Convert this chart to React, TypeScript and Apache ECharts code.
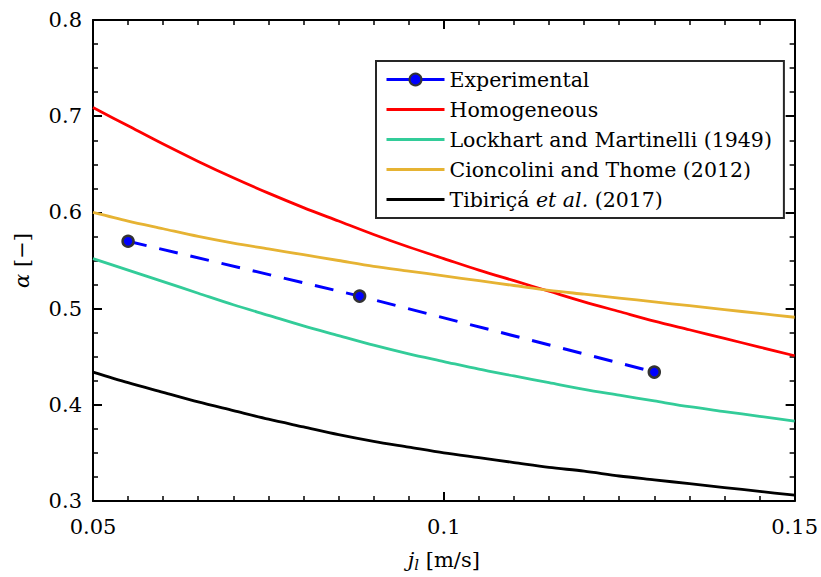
import React, { useEffect, useRef } from "react";
import * as echarts from "echarts";

const jl = [0.05, 0.055, 0.06, 0.065, 0.07, 0.075, 0.08, 0.085, 0.09, 0.095, 0.1, 0.105, 0.11, 0.115, 0.12, 0.125, 0.13, 0.135, 0.14, 0.145, 0.15];
const homogeneous = [0.709, 0.690, 0.671, 0.653, 0.636, 0.620, 0.605, 0.591, 0.577, 0.564, 0.552, 0.540, 0.529, 0.518, 0.507, 0.497, 0.487, 0.478, 0.469, 0.460, 0.451];
const lockhart = [0.552, 0.540, 0.528, 0.516, 0.504, 0.493, 0.482, 0.472, 0.462, 0.453, 0.445, 0.437, 0.430, 0.423, 0.416, 0.410, 0.404, 0.398, 0.393, 0.388, 0.383];
const cioncolini = [0.600, 0.591, 0.583, 0.575, 0.568, 0.562, 0.556, 0.550, 0.544, 0.539, 0.534, 0.529, 0.524, 0.519, 0.515, 0.511, 0.507, 0.503, 0.499, 0.495, 0.491];
const tibirica = [0.434, 0.423, 0.413, 0.403, 0.394, 0.385, 0.377, 0.369, 0.362, 0.356, 0.350, 0.345, 0.340, 0.335, 0.331, 0.326, 0.322, 0.318, 0.314, 0.310, 0.306];
const expX = [0.055, 0.088, 0.13];
const expY = [0.570, 0.513, 0.434];
const names = [
  "Experimental",
  "Homogeneous",
  "Lockhart and Martinelli (1949)",
  "Cioncolini and Thome (2012)",
  "Tibiriçá et al. (2017)",
];

const FONT = "DejaVu Serif";
const FS = 21;
const LFS = 20.5;

const pairs = (xs: number[], ys: number[]) => xs.map((x, i) => [x, ys[i]]);
const fmt = (v: number) => String(parseFloat(v.toFixed(3)));

export default function App() {
  const ref = useRef<HTMLDivElement>(null);
  useEffect(() => {
    if (!ref.current) return;
    const chart = echarts.init(ref.current, null, { renderer: "svg" });
    const axisCommon = {
      type: "value" as const,
      axisLine: { show: true, onZero: false, lineStyle: { color: "#000", width: 2 } },
      axisTick: { show: true, inside: true, length: 9, lineStyle: { color: "#000", width: 2 } },
      minorTick: { show: true, length: 5, lineStyle: { color: "#000", width: 1.5 } },
      splitLine: { show: false },
      minorSplitLine: { show: false },
    };
    const xBase = { ...axisCommon, min: 0.05, max: 0.15, interval: 0.05, minorTick: { ...axisCommon.minorTick, splitNumber: 10 } };
    const yBase = { ...axisCommon, min: 0.3, max: 0.8, interval: 0.1, minorTick: { ...axisCommon.minorTick, splitNumber: 4 } };
    const lineSeries = (name: string, ys: number[], color: string) => ({
      name,
      type: "line",
      data: pairs(jl, ys),
      symbol: "none",
      smooth: 0.3,
      lineStyle: { color, width: 2.8 },
      itemStyle: { color },
    });
    const hiddenSymbol = (name: string) => ({ name, itemStyle: { opacity: 0 }, lineStyle: { width: 3 } });
    chart.setOption({
      animation: false,
      backgroundColor: "#fff",
      textStyle: { fontFamily: FONT },
      grid: { left: 93, right: 26, top: 20, bottom: 76 },
      xAxis: [
        {
          ...xBase,
          position: "bottom",
          axisLabel: { show: true, margin: 15, fontFamily: FONT, fontSize: FS, color: "#000", formatter: fmt },
          name: "{it|j}{sub|l} [m/s]",
          nameLocation: "middle",
          nameGap: 46,
          nameTextStyle: {
            fontFamily: FONT,
            fontSize: FS,
            color: "#000",
            rich: {
              it: { fontFamily: FONT, fontSize: FS, fontStyle: "italic", color: "#000" },
              sub: { fontFamily: FONT, fontSize: 15, fontStyle: "italic", color: "#000", padding: [10, 0, 0, 0] },
            },
          },
        },
        { ...xBase, position: "top", axisLabel: { show: false } },
      ],
      yAxis: [
        {
          ...yBase,
          position: "left",
          axisLabel: { show: true, margin: 11, fontFamily: FONT, fontSize: FS, color: "#000", formatter: fmt },
          name: "{it|α} [−]",
          nameLocation: "middle",
          nameGap: 61,
          nameRotate: 90,
          nameTextStyle: {
            fontFamily: FONT,
            fontSize: FS,
            color: "#000",
            rich: { it: { fontFamily: FONT, fontSize: FS, fontStyle: "italic", color: "#000" } },
          },
        },
        { ...yBase, position: "right", axisLabel: { show: false } },
      ],
      legend: {
        orient: "vertical",
        left: 376,
        top: 61,
        padding: [8, 12, 8, 9],
        itemWidth: 58,
        itemHeight: 15,
        itemGap: 9,
        borderColor: "#262626",
        borderWidth: 2,
        backgroundColor: "#fff",
        data: [
          { name: names[0], lineStyle: { type: "solid", width: 3 } },
          hiddenSymbol(names[1]),
          hiddenSymbol(names[2]),
          hiddenSymbol(names[3]),
          hiddenSymbol(names[4]),
        ],
        formatter: (n: string) => (n === names[4] ? "Tibiriçá {it|et al.} (2017)" : n),
        textStyle: {
          fontFamily: FONT,
          fontSize: LFS,
          lineHeight: 21,
          color: "#000",
          rich: { it: { fontFamily: FONT, fontSize: LFS, fontStyle: "italic", color: "#000" } },
        },
      },
      series: [
        {
          name: names[0],
          type: "line",
          data: pairs(expX, expY),
          symbol: "circle",
          symbolSize: 11,
          z: 5,
          itemStyle: { color: "#0000ff", borderColor: "#333333", borderWidth: 2.5 },
          lineStyle: { color: "#0000ff", width: 3, type: [19, 13] },
        },
        lineSeries(names[1], homogeneous, "#ff0000"),
        lineSeries(names[2], lockhart, "#33cc99"),
        lineSeries(names[3], cioncolini, "#e6b333"),
        lineSeries(names[4], tibirica, "#000000"),
      ],
    });
    return () => chart.dispose();
  }, []);
  return <div ref={ref} style={{ position: "fixed", left: 0, top: 0, width: 821, height: 577 }} />;
}
